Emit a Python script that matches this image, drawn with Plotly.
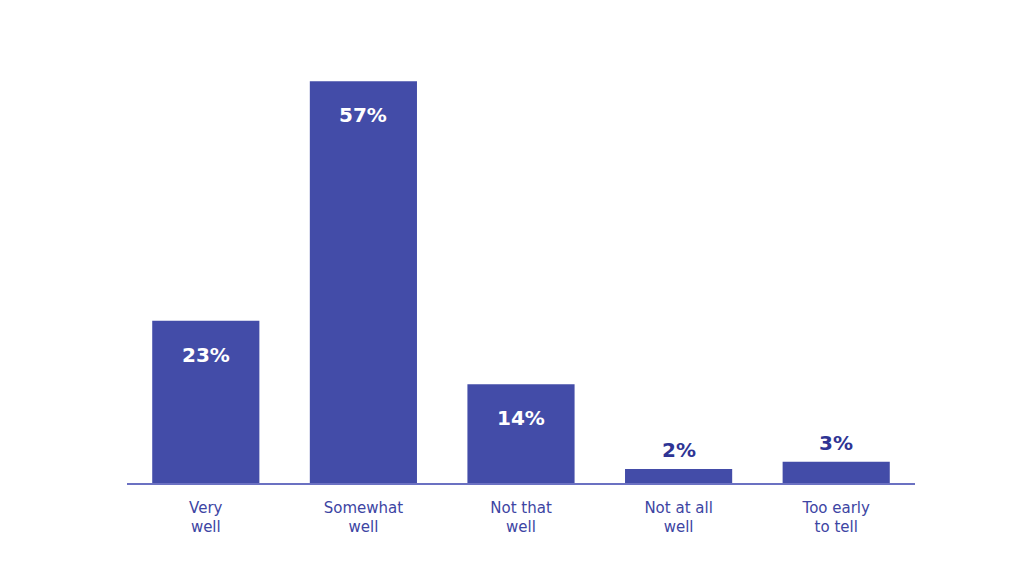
import plotly.graph_objects as go

categories = ["Very<br>well", "Somewhat<br>well", "Not that<br>well", "Not at all<br>well", "Too early<br>to tell"]
values = [23, 57, 14, 2, 3]
value_labels = ["23%", "57%", "14%", "2%", "3%"]

BAR_COLOR = "#434CA8"
LABEL_DARK = "#2E3494"
TICK_COLOR = "#3D45A3"
FONT = "DejaVu Sans, Open Sans, sans-serif"

fig = go.Figure(
    go.Bar(
        x=categories,
        y=values,
        marker=dict(color=BAR_COLOR, line=dict(width=0)),
        hoverinfo="skip",
    )
)

# value labels: inside near the top for tall bars, above for short ones
for cat, val, lab in zip(categories, values, value_labels):
    inside = val > 10
    fig.add_annotation(
        x=cat,
        y=val,
        text=f"<b>{lab}</b>",
        showarrow=False,
        yanchor="middle",
        yshift=-34 if inside else 19,
        font=dict(family=FONT, size=20, color="white" if inside else LABEL_DARK),
    )

fig.update_layout(
    width=1024,
    height=576,
    margin=dict(l=119, r=117, t=52, b=101),
    paper_bgcolor="white",
    plot_bgcolor="white",
    bargap=0.32,
    showlegend=False,
    font=dict(family=FONT),
)
fig.update_xaxes(
    range=[-0.5, 4.5],
    showline=True,
    linecolor="#6B71C2",
    linewidth=1.5,
    showgrid=False,
    ticks="",
    ticklabelstandoff=10,
    tickfont=dict(family=FONT, size=15, color=TICK_COLOR),
)
fig.update_yaxes(range=[0, 60], visible=False, showgrid=False, zeroline=False)

fig.write_html("out.html")
